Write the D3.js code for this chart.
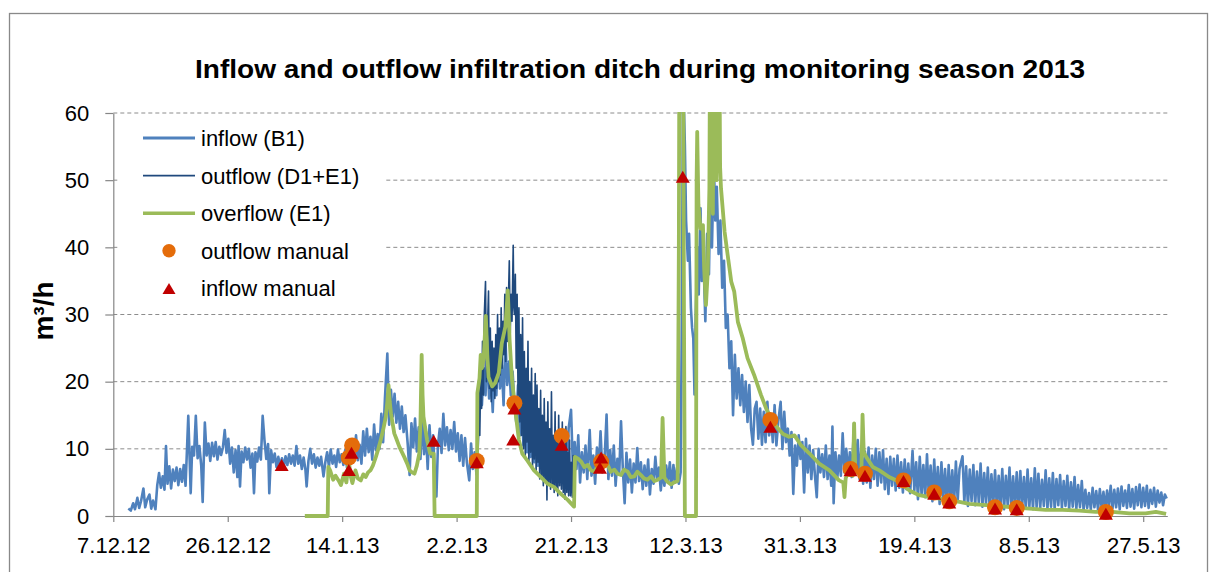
<!DOCTYPE html>
<html>
<head>
<meta charset="utf-8">
<script src="https://cdn.jsdelivr.net/npm/d3@7"></script>
<style>
  body { margin: 0; background: #fff; }
  svg { display: block; font-family: "Liberation Sans", Arial, sans-serif; }
</style>
</head>
<body>
<svg id="chart" width="1214" height="572"></svg>
<script>
// days counted from 7.12.12, values in m3/h
const START = Date.UTC(2012, 11, 7);
const END = Date.UTC(2013, 4, 31);

const yTicks = [0, 10, 20, 30, 40, 50, 60];
const xTickLabels = [`7.12.12`, `26.12.12`, `14.1.13`, `2.2.13`, `21.2.13`, `12.3.13`, `31.3.13`, `19.4.13`, `8.5.13`, `27.5.13`];
const seriesNames = [`inflow (B1)`, `outflow (D1+E1)`, `overflow (E1)`, `outflow manual`, `inflow manual`];

const inflowB1 = [
[2.5,1.1],[2.9,0.8],[3.3,1.9],[3.6,1.0],[4.0,2.7],[4.3,1.2],[4.6,2.2],[5.0,4.1],[5.3,1.3],[5.6,2.4],[6.0,3.2],[6.3,1.1],[6.6,2.3],[7.0,1.0],
[7.3,4.6],[7.6,6.4],[7.9,4.2],[8.2,5.9],[8.5,3.9],[8.75,10.4],[9.0,4.8],[9.3,7.4],[9.6,4.1],[9.9,6.9],[10.2,5.2],[10.5,7.2],[10.8,4.6],[11.1,7.0],[11.4,5.1],[11.7,7.6],[12.0,4.5],
[12.45,14.9],[12.85,3.4],[13.1,10.3],[13.4,9.0],[13.7,14.9],[14.0,8.6],[14.3,10.4],[14.6,7.5],[14.84,2.1],[15.05,9.4],[15.2,13.9],[15.5,9.0],[15.8,10.8],[16.1,8.2],[16.4,10.9],[16.7,8.9],[17.0,11.0],[17.3,8.4],[17.6,10.3],[17.9,9.1],[18.2,10.2],[18.5,12.8],[18.8,9.4],[19.1,11.5],[19.4,7.8],[19.7,10.2],[20.0,6.5],[20.3,9.8],[20.6,5.8],[20.8,10.4],[21.04,4.4],[21.3,9.6],[21.6,8.0],[21.9,10.2],[22.2,8.4],[22.5,10.0],[22.8,7.2],[23.1,9.3],[23.36,3.4],[23.6,9.5],[23.9,8.1],[24.2,10.2],[24.5,8.4],[24.8,14.9],[25.1,11.3],[25.4,8.5],[25.7,10.7],[25.9,3.4],[26.2,9.8],[26.5,8.0],[26.8,9.3],[27.1,7.3],[27.4,8.8],[27.7,7.4],[28.0,8.6],
[28.3,7.3],[28.6,8.9],[28.9,7.6],[29.2,9.2],[29.5,7.8],[29.8,9.0],[30.1,7.5],[30.4,10.4],[30.7,7.8],[31.0,9.0],[31.3,7.0],[31.6,8.7],[31.9,6.9],[32.1,4.4],[32.4,8.2],[32.7,10.0],[33.0,7.8],[33.3,9.2],[33.6,7.2],[33.9,8.7],[34.2,7.5],[34.5,8.8],[34.9,5.9],[35.2,8.0],[35.5,9.5],[35.8,7.4],[36.1,9.9],[36.4,7.8],[36.7,9.0],[37.0,7.3],[37.3,9.9],[37.6,8.0],[37.9,9.2],[38.2,7.6],
[38.5,9.8],[38.8,7.2],[39.1,10.3],[39.4,8.0],[39.7,11.2],[40.0,8.6],[40.3,12.0],[40.6,8.3],[40.9,10.6],[41.2,7.8],[41.5,12.6],[41.8,9.0],[42.1,13.0],[42.4,9.5],[42.7,11.8],[43.0,8.4],[43.3,13.6],[43.6,9.8],[43.9,12.2],[44.2,10.0],[44.5,15.2],[44.8,11.0],[45.1,17.5],[45.5,24.2],[45.8,13.6],[46.1,18.8],
[46.4,14.8],[46.7,18.2],[47.0,13.9],[47.3,17.0],[47.6,13.0],[47.9,16.3],[48.2,12.5],[48.5,15.0],[48.9,10.5],[49.2,6.1],[49.5,13.8],[49.8,10.2],[50.1,14.5],[50.4,9.6],[50.7,13.2],[51.0,8.5],[51.3,14.8],[51.6,9.2],[51.9,12.6],[52.2,7.0],[52.5,13.5],[52.8,8.8],[53.1,12.0],[53.4,6.0],[53.65,2.9],[53.9,10.5],[54.2,13.0],[54.5,9.4],[54.8,15.2],[55.1,10.5],[55.4,13.2],[55.7,9.8],[56.0,12.8],[56.3,10.0],[56.6,14.0],[56.9,9.6],[57.2,12.3],[57.5,8.2],[57.8,12.0],[58.1,7.5],[58.4,11.6],[58.7,8.0],[59.1,5.3],[59.4,10.8],[59.7,7.0],[60.0,9.5],[60.3,6.2],
[60.6,12.0],[60.9,19.3],[61.2,16.5],[61.5,22.0],[61.8,18.0],[62.1,24.8],[62.4,17.5],[62.7,21.0],[63.0,15.5],[63.3,23.5],[63.6,18.0],[63.9,25.2],[64.2,19.0],[64.5,22.5],[64.8,16.5],[65.1,26.5],[65.4,19.5],[65.7,23.0],[66.0,18.0],[66.3,21.5],[66.6,16.5],[66.9,14.0],[67.2,19.5],[67.5,12.0],[67.8,17.5],[68.1,10.5],[68.4,16.0],[68.7,9.5],[69.0,15.0],[69.3,8.8],[69.6,14.5],[69.9,8.0],[70.2,13.5],[70.5,7.5],[70.8,14.0],[71.1,7.0],[71.4,12.5],[71.7,6.5],[72.0,12.0],[72.3,6.0],[72.6,11.5],[72.9,5.5],[73.2,11.0],[73.5,5.8],[73.8,12.0],[74.1,6.0],[74.4,10.5],[74.7,5.5],[75.0,11.8],[75.3,6.0],[75.6,13.0],[76.0,15.8],[76.3,7.5],[76.6,11.0],
[76.9,7.0],[77.2,12.0],[77.5,5.0],[77.8,9.5],[78.1,6.5],[78.4,10.5],[78.7,5.5],[79.1,12.8],[79.4,6.0],[79.7,9.0],[80.0,4.8],[80.3,10.2],[80.6,7.0],[80.9,12.6],[81.2,6.5],[81.6,9.0],[81.9,15.1],[82.2,5.5],[82.5,9.8],[82.8,6.0],[83.1,10.5],[83.4,4.5],[83.7,8.5],[84.0,6.2],[84.3,14.1],[84.6,7.0],[84.9,1.9],[85.2,9.4],[85.5,5.0],[85.8,8.4],[86.1,3.5],[86.4,7.8],[86.7,5.0],[87.0,10.1],[87.3,5.2],[87.6,8.0],[87.9,4.0],[88.2,7.5],[88.5,4.5],[88.8,8.4],[89.1,3.2],[89.4,7.0],[89.7,4.8],[90.0,8.8],[90.3,5.5],[90.6,7.2],[90.9,3.8],[91.2,6.8],[91.5,4.5],[91.8,7.5],[92.1,5.0],[92.4,8.0],[92.7,4.2],[93.0,7.6],[93.3,5.0],[93.6,7.2],[93.9,4.8],[94.2,6.5],
[94.4,30],[94.6,66],[94.9,55.2],[95.1,44],[95.4,38],[95.6,42],[95.9,31],[96.1,28],[96.3,26.4],[96.5,18.1],[96.7,30],[97.0,40],[97.2,33],[97.5,45.8],[97.7,35],[98.0,38],[98.3,29],[98.6,42],[98.9,36],[99.1,48],[99.4,40],[99.7,53],[99.95,44],[100.2,49],[100.5,39],[100.8,44],[101.1,34],[101.4,38],[101.7,28],[102.0,30],[102.3,22],[102.6,26],[102.9,15],[103.2,24],[103.5,17.5],[103.8,22],[104.1,16.5],[104.4,21],[104.7,15.5],[105.0,20],[105.3,14],[105.6,19.5],[105.9,13],[106.2,10.6],[106.5,16],[106.8,17],[107.1,11.5],[107.4,16],[107.7,10.6],[108.0,15.5],[108.3,11],[108.6,17],[108.9,12],[109.2,15],[109.5,11],[109.8,16.5],[110.1,10.5],[110.4,14],[110.8,17.0],[111.1,10],[111.4,15.5],[111.7,11],[112.0,13],[112.3,9],[112.6,12.5],[112.9,3.3],[113.2,10.5],[113.5,7.5],[113.8,12],[114.1,8.5],[114.4,11.0],
[114.7,3.5],[115.0,11.5],[115.3,6.5],[115.6,10.5],[115.9,5.5],[116.2,9.8],[116.5,6.0],[116.8,2.8],[117.1,10.0],[117.4,6.5],[117.7,9.2],[118.0,5.8],[118.3,10.5],[118.6,5.5],[118.9,9.0],[119.2,4.5],[119.4,13.3],[119.6,1.9],[119.9,9.5],[120.2,5.5],[120.5,9.0],[120.8,6.0],[121.1,12.3],[121.4,6.5],[121.7,10.0],[122.0,6.3],[122.3,9.5],[122.6,5.8],[123.0,13.8],[123.3,6.5],[123.6,11.3],[123.9,5.5],[124.2,10.0],[124.5,4.8],[124.8,9.6],[125.1,5.0],[125.4,10.2],[125.7,4.2],[126.0,9.0],[126.3,5.5],[126.6,10.0],[126.9,4.5],[127.2,9.5],[127.5,5.0],[127.8,9.8],[128.1,4.0],[128.4,8.5],[128.7,3.3],[129.0,8.8],[129.3,4.5],[129.6,8.5],[129.9,3.8],[130.2,9.0],[130.5,4.2],[130.8,8.0],[131.1,3.5],[131.4,8.4],[131.7,4.0],[132.0,7.8],[132.3,3.4],[132.7,9.7],[133.0,3.8],[133.3,8.0],[133.6,2.5],[133.9,8.8],[134.2,3.2],[134.5,7.6],[134.8,2.8],[135.1,9.2],[135.4,3.0],[135.7,7.5],[136.0,2.2],[136.3,8.4],[136.6,2.6],[136.9,7.3],[137.2,1.8],[137.5,8.0],[137.8,2.5],[138.1,7.0],[138.4,1.6],[138.7,7.6],[139.0,2.4],[139.3,6.8],[139.6,1.9],[139.9,8.1],[140.2,2.3],[140.5,7.0],[141.0,8.9],[141.3,2.0],[141.6,7.4],[141.9,1.5],[142.2,6.9],[142.5,2.2],[142.8,7.6],[143.1,1.6],[143.4,6.6],[143.7,2.0],[144.0,7.8],[144.3,1.4],[144.6,6.4],[144.9,1.8],[145.2,7.2],[145.5,1.3],[145.8,6.2],[146.1,1.6],[146.4,6.8],[146.7,1.2],[147.0,6.0],[147.3,1.5],[147.6,7.0],[147.9,1.0],[148.2,6.0],[148.5,1.6],[148.8,7.2],[149.1,1.2],[149.4,5.9],[149.7,1.4],[150.0,6.5],[150.3,1.0],[150.6,6.7],[150.9,1.3],[151.2,5.8],[151.5,1.1],[151.8,6.9],[152.1,1.4],[152.4,5.6],[152.7,1.0],[153.0,7.1],[153.3,1.3],[153.6,6.3],[153.9,1.2],[154.2,5.4],[154.5,1.5],[154.8,6.8],[155.1,1.1],[155.4,5.6],[155.7,1.4],[156.0,6.4],[156.3,1.0],[156.6,5.5],[156.9,1.6],[157.2,6.1],[157.5,1.2],[157.8,5.2],[158.1,1.5],[158.4,6.0],[158.7,1.0],[159.0,5.0],[159.3,1.4],[159.6,5.8],[159.9,1.1],[160.2,4.6],[160.5,1.3],[160.8,5.2],[161.1,0.9],[161.4,3.9],[161.7,1.2],[162.0,3.4],[162.3,1.0],[162.6,4.2],[162.9,1.3],[163.2,3.7],[163.5,0.9],[163.8,4.0],[164.1,1.2],[164.4,3.6],[164.7,1.0],[165.0,3.8],[165.3,1.4],[165.6,4.5],[165.9,1.1],[166.2,3.9],[166.5,1.3],[166.8,4.1],[167.1,1.0],[167.4,4.4],[167.7,1.5],[168.0,3.8],[168.3,1.2],[168.6,4.6],[168.9,1.4],[169.2,4.0],[169.5,1.1],[169.8,4.3],[170.1,1.6],[170.4,4.7],[170.7,1.3],[171.0,4.2],[171.3,1.5],[171.6,4.5],[171.9,1.2],[172.2,3.9],[172.5,1.8],[172.8,4.2],[173.1,1.4],[173.4,3.8],[173.7,2.0],[174.0,3.5],[174.3,1.6],[174.6,3.2],[174.9,2.6]
];

const outflowD1E1 = [
[60.4,17],[60.55,13],[60.7,20],[60.85,12],[61.0,22],[61.15,16],[61.3,26],[61.45,18],[61.6,30],[61.8,34.9],[61.95,20],[62.1,27],[62.3,33.5],[62.45,19],[62.6,28],[62.75,17],[62.9,26],[63.05,18.6],[63.2,25],[63.35,17.5],[63.5,27],[63.65,19],[63.8,30],[63.95,20],[64.1,28],[64.25,21],[64.4,31],[64.55,22],[64.7,29],[64.85,24],[65.0,33],[65.15,23],[65.3,34],[65.45,26],[65.6,32],[65.75,38],[65.9,27],[66.05,33],[66.2,29],[66.4,40.3],[66.5,31],
[66.6,30],[66.75,36],[66.9,22],[67.05,33],[67.2,18],[67.35,31],[67.5,14],[67.65,27],[67.8,12],[67.95,29.5],[68.1,10],[68.25,24.5],[68.4,9],[68.55,22],[68.7,11],[68.85,26],[69.0,8],[69.15,20],[69.3,9.5],[69.45,22],[69.6,7],[69.75,18],[69.9,8.5],[70.05,21.2],[70.2,6.5],[70.35,19.5],[70.5,8],[70.65,16],[70.8,5.5],[70.95,18.7],[71.1,6],[71.25,15],[71.4,4.5],[71.55,17.5],[71.7,5],[71.85,14],[72.0,2.4],[72.15,17],[72.3,5],[72.45,13],[72.6,4],[72.75,18.5],[72.9,4.5],[73.05,12],[73.2,3.5],[73.35,15.5],[73.5,4],[73.65,11],[73.8,3],[73.95,15],[74.1,4.5],[74.25,11.5],[74.4,4],[74.55,14],[74.7,3.5],[74.85,10],[75.0,2.5],[75.15,13.3],[75.3,3.5],[75.45,9.5],[75.6,3],[75.75,11.3],[75.9,3],[76.05,8],[76.2,2.8],[76.35,9],[76.5,3]
];

const overflowE1 = [
[31.8,0],[35.6,0],[35.7,7.3],[36.0,6.8],[36.5,5.4],[36.9,6.0],[37.4,5.3],[37.8,4.6],[38.3,6.3],[38.7,5.0],[39.1,8.2],[39.4,6.0],[39.7,4.9],[40.2,6.8],[40.6,5.6],[41.1,5.3],[41.5,6.2],[41.9,5.8],[42.3,6.5],[42.7,6.8],[43.1,7.5],[43.6,8.8],[44.0,10.0],[44.4,11.3],[44.8,12.8],[45.25,14.8],[45.5,17.0],[45.7,19.5],[45.9,17.0],[46.1,15.3],[46.65,12.3],[47.0,11.5],[47.5,10.3],[48.3,8.8],[48.8,7.8],[49.2,6.8],[49.6,6.5],[50.0,6.3],[50.4,7.5],[50.8,9.3],[51.0,14.0],[51.2,24.0],[51.35,18.0],[51.5,14.8],[52.1,11.3],[52.6,9.3],[53.2,9.3],[53.35,0],
[60.35,0],[60.45,18.3],[60.8,20.5],[61.0,24.0],[61.2,22.0],[61.5,23.5],[61.85,29.8],[62.1,24.0],[62.3,20.7],[62.9,19.3],[63.4,19.8],[64.0,21.3],[64.5,25.7],[65.1,28.2],[65.5,33.6],[65.8,26.2],[66.2,20.3],[66.8,15.3],[67.35,11.3],[67.9,9.3],[68.7,8.3],[69.85,6.8],[71.0,5.8],[72.1,4.8],[73.2,4.3],[74.3,3.3],[75.45,2.4],[76.5,1.4],
[76.65,8.8],[77.2,8.5],[77.67,8.1],[78.2,7.3],[78.8,7.6],[79.3,6.8],[79.9,6.6],[80.4,7.4],[81.0,7.1],[81.5,7.9],[82.1,7.6],[82.6,6.6],[83.2,6.9],[83.7,6.3],[84.3,6.1],[84.8,6.9],[85.4,6.6],[85.9,5.8],[86.5,5.9],[87.0,6.6],[87.6,6.1],[88.1,5.6],[88.7,5.4],[89.3,5.9],[89.85,5.2],[90.4,5.4],[90.95,5.7],[91.2,14.6],[91.5,5.7],[92.0,5.1],[92.6,4.7],[93.1,5.0],[93.7,5.2],[93.9,40],[94.0,75],[94.6,75],[94.75,30],[94.9,0],
[96.75,0],[96.85,50],[96.95,57.2],[97.15,46.3],[97.5,42.8],[97.9,43.3],[98.1,36.9],[98.4,31.4],[98.7,36.4],[98.97,48.8],[99.1,75],[99.25,52],[99.4,75],[99.55,45],[99.7,75],[99.85,55],[100.0,75],[100.15,50],[100.3,75],[100.45,58],[100.6,75],[100.75,52],[100.9,48.8],[101.5,42.3],[102.0,38.9],[102.6,34.9],[103.1,33.4],[103.7,28.9],[104.5,26.5],[105.3,23.5],[106.4,21.0],[107.55,18.0],[108.4,16.0],[109.2,14.6],[110.3,13.1],[111.2,12.2],[112.2,11.8],[113.1,12.0],[114.2,10.5],[115.6,9.3],[117.2,7.8],[118.9,6.8],[120.5,5.3],[121.2,5.0],[121.4,2.8],[121.6,5.6],[121.9,6.3],[122.8,6.0],[123.0,13.8],[123.2,6.5],[124.2,6.3],[124.4,15.1],[124.6,9.5],[125.0,8.8],[126.1,7.3],[127.2,6.8],[128.8,5.8],[130.5,5.1],[132.2,3.8],[133.8,3.1],[135.5,2.8],[137.2,2.6],[138.8,2.3],[140.5,2.1],[142.1,1.8],[143.8,1.7],[146.6,1.5],[149.3,1.3],[152.1,1.1],[154.8,0.9],[157.6,0.9],[160.4,0.8],[163.1,0.6],[165.9,0.6],[168.7,0.4],[171.4,0.4],[173.1,0.6],[174.8,0.3]
];

const outflowManual = [
[39.1,8.7],[39.65,10.5],[60.35,8.2],[66.6,16.8],[74.45,11.9],[81.0,8.1],[109.1,14.3],[122.4,7.0],[124.8,6.3],[131.2,5.3],[136.3,3.5],[138.8,2.2],[146.4,1.3],[150.0,1.2],[164.8,0.6]
];

const inflowManual = [
[27.95,7.6],[39.1,6.85],[39.55,9.4],[53.2,11.2],[60.35,8.0],[66.4,11.4],[66.6,16.0],[74.45,10.6],[81.0,8.7],[80.8,7.2],[94.55,50.5],[109.1,13.3],[122.4,6.8],[124.8,6.0],[131.2,5.2],[136.3,3.3],[138.8,2.0],[146.4,1.1],[150.0,1.0],[164.8,0.35]
];

const colors = {
    inflow: `#4F81BD`,
    outflow: `#1F497D`,
    overflow: `#9BBB59`,
    outManual: `#E46C0A`,
    inManual: `#C00000`,
    axis: `#868686`,
    grid: `#8C8C8C`
};

const svg = d3.select(`#chart`);
const toDate = d => new Date(START + d * 864e5);
const parseTick = d3.utcParse(`%d.%m.%y`);

const x = d3.scaleUtc()
    .domain([START, END])
    .range([113.3, 1167.3]);
const y = d3.scaleLinear()
    .domain([0, 60])
    .range([516, 113]);

// outer frame
svg.append(`rect`)
    .attr(`x`, 9.5).attr(`y`, 13.5)
    .attr(`width`, 1198).attr(`height`, 620)
    .attr(`fill`, `#fff`)
    .attr(`stroke`, `#898989`)
    .attr(`stroke-width`, 1.3);

svg.append(`text`)
    .attr(`x`, 640).attr(`y`, 78)
    .attr(`text-anchor`, `middle`)
    .attr(`font-size`, 26)
    .attr(`font-weight`, `bold`)
    .attr(`textLength`, 890)
    .attr(`lengthAdjust`, `spacingAndGlyphs`)
    .text(`Inflow and outflow infiltration ditch during monitoring season 2013`);

// gridlines
svg.append(`g`)
    .selectAll(`line`)
    .data(yTicks.filter(v => v > 0))
    .join(`line`)
    .attr(`x1`, 113.3).attr(`x2`, 1167.3)
    .attr(`y1`, d => y(d)).attr(`y2`, d => y(d))
    .attr(`stroke`, colors.grid)
    .attr(`stroke-width`, 1)
    .attr(`stroke-dasharray`, `4,3`);

const yAxis = d3.axisLeft(y)
    .tickValues(yTicks)
    .tickSize(8)
    .tickSizeOuter(0)
    .tickPadding(16);
const xAxis = d3.axisBottom(x)
    .tickValues(xTickLabels.map(parseTick))
    .tickFormat((d, i) => xTickLabels[i])
    .tickSize(6)
    .tickSizeOuter(0)
    .tickPadding(15);

const styleAxis = g => {
    g.select(`.domain`).attr(`stroke`, colors.axis).attr(`stroke-width`, 1.2);
    g.selectAll(`.tick line`).attr(`stroke`, colors.axis).attr(`stroke-width`, 1.2);
    g.selectAll(`.tick text`)
        .attr(`fill`, `#000`)
        .attr(`font-size`, 22)
        .attr(`font-family`, `"Liberation Sans", Arial, sans-serif`);
};

svg.append(`g`)
    .attr(`transform`, `translate(113.3,0)`)
    .call(yAxis)
    .call(styleAxis);

svg.append(`g`)
    .attr(`transform`, `translate(0,516)`)
    .call(xAxis)
    .call(styleAxis);

svg.append(`text`)
    .attr(`transform`, `translate(53,311) rotate(-90)`)
    .attr(`text-anchor`, `middle`)
    .attr(`font-size`, 28)
    .attr(`font-weight`, `bold`)
    .text(`m³/h`);

// data
svg.append(`clipPath`).attr(`id`, `plot`)
    .append(`rect`)
    .attr(`x`, 113.3).attr(`y`, 112)
    .attr(`width`, 1056).attr(`height`, 412);

const plot = svg.append(`g`).attr(`clip-path`, `url(#plot)`);

const line = d3.line()
    .x(d => x(toDate(d[0])))
    .y(d => y(d[1]));

plot.append(`path`)
    .datum(inflowB1)
    .attr(`d`, line)
    .attr(`fill`, `none`)
    .attr(`stroke`, colors.inflow)
    .attr(`stroke-width`, 2.6)
    .attr(`stroke-linejoin`, `round`);

plot.append(`path`)
    .datum(outflowD1E1)
    .attr(`d`, line)
    .attr(`fill`, `none`)
    .attr(`stroke`, colors.outflow)
    .attr(`stroke-width`, 1.6)
    .attr(`stroke-linejoin`, `round`);

plot.append(`path`)
    .datum(overflowE1)
    .attr(`d`, line)
    .attr(`fill`, `none`)
    .attr(`stroke`, colors.overflow)
    .attr(`stroke-width`, 3.8)
    .attr(`stroke-linejoin`, `round`);

const triangle = (w, h) => `M0,${-h / 2}L${w / 2},${h / 2}L${-w / 2},${h / 2}Z`;

plot.append(`g`)
    .selectAll(`circle`)
    .data(outflowManual)
    .join(`circle`)
    .attr(`cx`, d => x(toDate(d[0])))
    .attr(`cy`, d => y(d[1]))
    .attr(`r`, 8)
    .attr(`fill`, colors.outManual);

plot.append(`g`)
    .selectAll(`path`)
    .data(inflowManual)
    .join(`path`)
    .attr(`transform`, d => `translate(${x(toDate(d[0]))},${y(d[1])})`)
    .attr(`d`, triangle(14, 12))
    .attr(`fill`, colors.inManual);

// legend
const legend = svg.append(`g`);
legend.append(`rect`)
    .attr(`x`, 120).attr(`y`, 119)
    .attr(`width`, 264).attr(`height`, 186)
    .attr(`fill`, `#fff`);

const legendY = i => 138 + i * 37.6;
const legendLines = [
    { color: colors.inflow, width: 3 },
    { color: colors.outflow, width: 1.6 },
    { color: colors.overflow, width: 3.6 }
];

legendLines.forEach((l, i) => {
    legend.append(`line`)
        .attr(`x1`, 143).attr(`x2`, 195)
        .attr(`y1`, legendY(i)).attr(`y2`, legendY(i))
        .attr(`stroke`, l.color)
        .attr(`stroke-width`, l.width);
});

legend.append(`circle`)
    .attr(`cx`, 169).attr(`cy`, legendY(3))
    .attr(`r`, 6.7)
    .attr(`fill`, colors.outManual);

legend.append(`path`)
    .attr(`transform`, `translate(169,${legendY(4)})`)
    .attr(`d`, triangle(13, 11))
    .attr(`fill`, colors.inManual);

legend.selectAll(`text`)
    .data(seriesNames)
    .join(`text`)
    .attr(`x`, 201)
    .attr(`y`, (d, i) => legendY(i))
    .attr(`dy`, `0.36em`)
    .attr(`font-size`, 22)
    .attr(`fill`, `#000`)
    .text(d => d);
</script>
</body>
</html>
